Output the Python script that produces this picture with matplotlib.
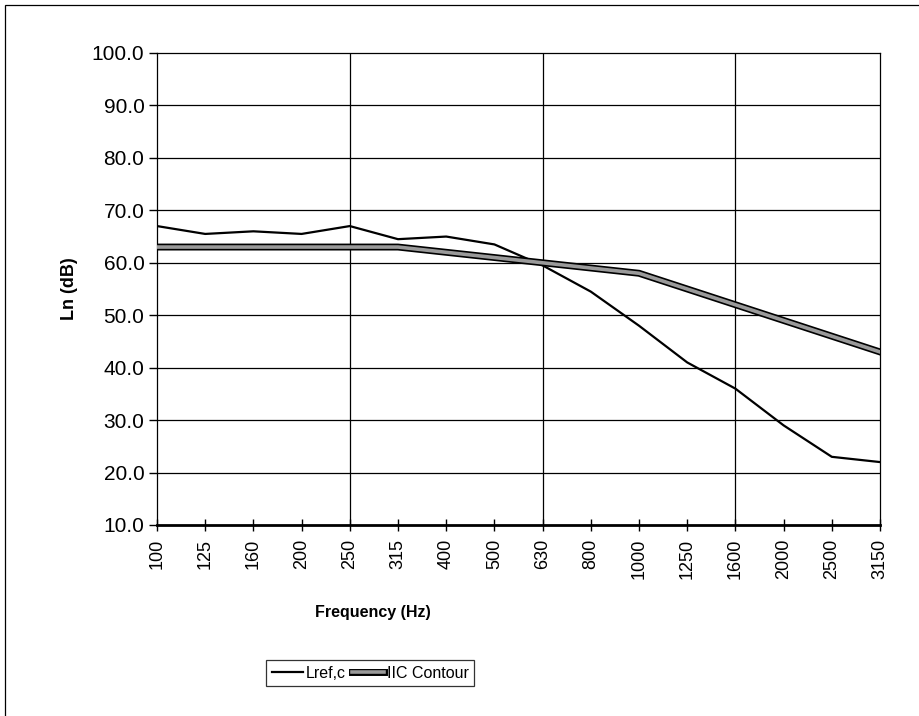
import numpy as np
import matplotlib.pyplot as plt
import matplotlib.patheffects as pe
from matplotlib.patches import Rectangle

plt.rcParams['font.family'] = ['Liberation Sans', 'DejaVu Sans']

freqs = ['100', '125', '160', '200', '250', '315', '400', '500', '630',
         '800', '1000', '1250', '1600', '2000', '2500', '3150']
lref_c = [67.0, 65.5, 66.0, 65.5, 67.0, 64.5, 65.0, 63.5, 59.5,
          54.5, 48.0, 41.0, 36.0, 29.0, 23.0, 22.0]
iic_contour = [63, 63, 63, 63, 63, 63, 62, 61, 60, 59, 58, 55, 52, 49, 46, 43]
y_ticks = np.arange(10, 101, 10)

fig = plt.figure(figsize=(9.2, 7.16), dpi=100)
ax = fig.add_axes([157/920, 1 - 525/716, (880 - 157)/920, (525 - 53)/716])

x = np.arange(len(freqs))
ax.plot(x, lref_c, color='black', lw=1.6, label='Lref,c', zorder=3)
ax.plot(x, iic_contour, color='#9a9a9a', lw=2.6, label='IIC Contour', zorder=3,
        path_effects=[pe.withStroke(linewidth=5, foreground='black')])

ax.set_xlim(0, len(freqs) - 1)
ax.set_ylim(10, 100)
ax.set_yticks(y_ticks)
ax.set_yticklabels(['%.1f' % v for v in y_ticks], fontsize=15)
ax.set_xticks(x)
ax.set_xticklabels(freqs, rotation=90, fontsize=13)
ax.tick_params(axis='y', direction='out', length=6, width=1, pad=3)
ax.tick_params(axis='x', direction='inout', length=8, width=1, pad=6)

for v in y_ticks[1:-1]:
    ax.axhline(v, color='black', lw=0.9, zorder=1)
for i in [4, 8, 12]:
    ax.axvline(i, color='black', lw=0.9, zorder=1)

for s in ['top', 'left', 'right']:
    ax.spines[s].set_linewidth(0.9)
ax.spines['bottom'].set_linewidth(2)

ax.set_ylabel('Ln (dB)', fontsize=13, fontweight='bold', labelpad=10)
fig.text(373/920, 1 - 613/716, 'Frequency (Hz)', fontsize=11.5, fontweight='bold',
         ha='center', va='center')

leg = fig.legend(loc='center', bbox_to_anchor=(370/920, 1 - 673/716), ncol=2,
                 fontsize=11.5, frameon=True, fancybox=False,
                 edgecolor='black', handlelength=2.0, handletextpad=0.15,
                 columnspacing=0.4, borderpad=0.35, borderaxespad=0)
leg.get_frame().set_linewidth(0.9)

fig.patches.append(Rectangle((5/920, -0.1), 2, 1 - 5/716 + 0.1, transform=fig.transFigure,
                             fill=False, edgecolor='black', lw=0.9))

fig.savefig('out.png', dpi=100)
